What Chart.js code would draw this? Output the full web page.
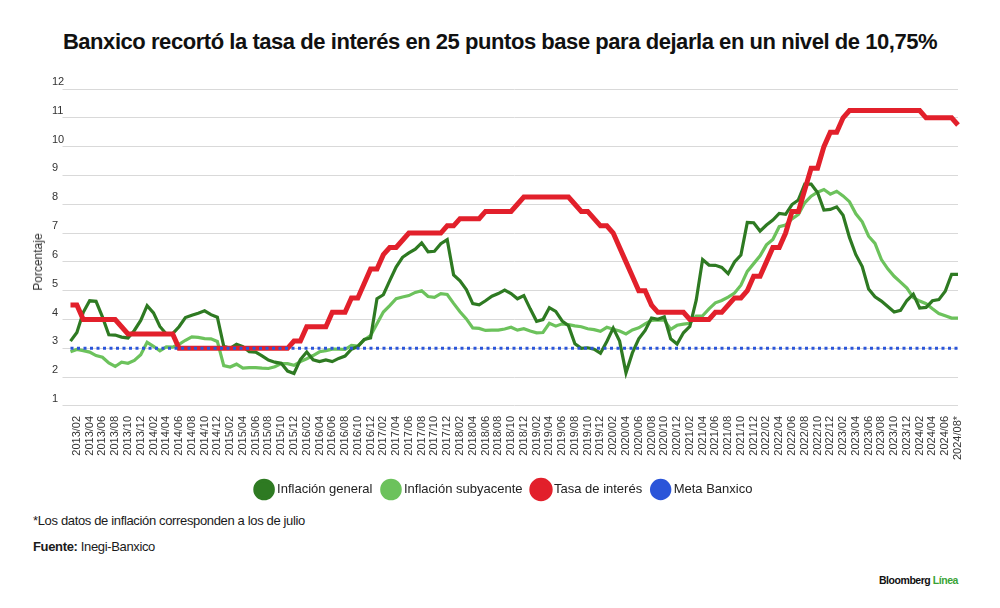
<!DOCTYPE html>
<html>
<head>
<meta charset="utf-8">
<script src="https://cdn.jsdelivr.net/npm/chart.js@4.4.1/dist/chart.umd.min.js"></script>
<style>
  html, body { margin: 0; padding: 0; background: #fff; }
  body { width: 1000px; height: 608px; position: relative; overflow: hidden; font-family: "Liberation Sans", Arial, sans-serif; color: #1a1a1a; }
  #title { position: absolute; left: 0; width: 1000px; top: 29px; text-align: center; font-weight: bold; font-size: 22px; letter-spacing: -0.45px; color: #111; }
  #chartBox { position: absolute; left: 0; top: 60px; width: 1000px; height: 446px; }
  #ylab { position: absolute; left: 38px; top: 262px; transform: translate(-50%, -50%) rotate(-90deg); font-size: 12px; color: #333; white-space: nowrap; }
  .note { position: absolute; left: 33px; font-size: 13px; letter-spacing: -0.35px; color: #1a1a1a; }
  #brand { position: absolute; right: 42px; top: 574px; font-size: 10.5px; font-weight: bold; letter-spacing: -0.45px; color: #111; }
  #brand span { color: #3aa335; }
</style>
</head>
<body>
<div id="title">Banxico recortó la tasa de interés en 25 puntos base para dejarla en un nivel de 10,75%</div>
<div id="chartBox"><canvas id="c"></canvas></div>
<div id="ylab">Porcentaje</div>
<div class="note" style="top:513px">*Los datos de inflación corresponden a los de julio</div>
<div class="note" style="top:539px"><b>Fuente:</b> Inegi-Banxico</div>
<div id="brand">Bloomberg <span>Línea</span></div>
<script>
// Categories: monthly, 2013/01 .. 2024/08
const years = [2013,2014,2015,2016,2017,2018,2019,2020,2021,2022,2023,2024];
const lastMonth2024 = 8;
const categories = [];
for (const y of years) {
  const end = (y === 2024) ? lastMonth2024 : 12;
  for (let m = 1; m <= end; m++) categories.push(y + '/' + String(m).padStart(2, '0'));
}
categories[categories.length - 1] = '2024/08*';

// Inflación general (%)
const inflacionGeneral = [
  3.25,3.55,4.25,4.65,4.63,4.09,3.47,3.46,3.39,3.36,3.62,3.97,
  4.48,4.23,3.76,3.50,3.51,3.75,4.07,4.15,4.22,4.30,4.17,4.08,
  3.07,3.00,3.14,3.06,2.88,2.87,2.74,2.59,2.52,2.48,2.21,2.13,
  2.61,2.87,2.60,2.54,2.60,2.54,2.65,2.73,2.97,3.06,3.31,3.36,
  4.72,4.86,5.35,5.82,6.16,6.31,6.44,6.66,6.35,6.37,6.63,6.77,
  5.55,5.34,5.04,4.55,4.51,4.65,4.81,4.90,5.02,4.90,4.72,4.83,
  4.37,3.94,4.00,4.41,4.28,3.95,3.78,3.16,3.00,3.02,2.97,2.83,
  3.24,3.70,3.25,2.15,2.84,3.33,3.62,4.05,4.01,4.09,3.33,3.15,
  3.54,3.76,4.67,6.08,5.89,5.88,5.81,5.59,6.00,6.24,7.37,7.36,
  7.07,7.28,7.45,7.68,7.65,7.99,8.15,8.70,8.70,8.41,7.80,7.82,
  7.91,7.62,6.85,6.25,5.84,5.06,4.79,4.64,4.45,4.26,4.32,4.66,
  4.88,4.40,4.42,4.65,4.69,4.98,5.57,5.57
];

// Inflación subyacente (%)
const inflacionSubyacente = [
  2.88,2.96,2.92,2.87,2.75,2.69,2.49,2.37,2.52,2.48,2.58,2.78,
  3.21,3.07,2.91,3.05,3.04,3.14,3.28,3.40,3.38,3.34,3.33,3.24,
  2.40,2.35,2.45,2.31,2.33,2.33,2.31,2.30,2.36,2.47,2.47,2.41,
  2.54,2.64,2.75,2.88,2.92,2.97,2.97,2.96,3.10,3.08,3.29,3.44,
  3.85,4.26,4.48,4.72,4.78,4.83,4.94,5.00,4.80,4.77,4.90,4.87,
  4.56,4.27,4.02,3.71,3.69,3.62,3.63,3.63,3.67,3.73,3.63,3.68,
  3.60,3.54,3.55,3.87,3.77,3.85,3.82,3.78,3.75,3.68,3.65,3.59,
  3.73,3.66,3.60,3.50,3.64,3.71,3.85,3.97,3.99,3.98,3.66,3.80,
  3.84,3.87,4.12,4.13,4.37,4.58,4.66,4.78,4.92,5.19,5.67,5.94,
  6.21,6.59,6.78,7.22,7.28,7.49,7.65,8.05,8.28,8.42,8.51,8.35,
  8.45,8.29,8.09,7.67,7.39,6.89,6.64,6.08,5.76,5.50,5.30,5.09,
  4.76,4.64,4.55,4.37,4.21,4.13,4.05,4.05
];

// Tasa de interés (%)
const tasaInteres = [
  4.5,4.5,4.0,4.0,4.0,4.0,4.0,4.0,3.75,3.5,3.5,3.5,
  3.5,3.5,3.5,3.5,3.5,3.0,3.0,3.0,3.0,3.0,3.0,3.0,
  3.0,3.0,3.0,3.0,3.0,3.0,3.0,3.0,3.0,3.0,3.0,3.25,
  3.25,3.75,3.75,3.75,3.75,4.25,4.25,4.25,4.75,4.75,5.25,5.75,
  5.75,6.25,6.5,6.5,6.75,7.0,7.0,7.0,7.0,7.0,7.0,7.25,
  7.25,7.5,7.5,7.5,7.5,7.75,7.75,7.75,7.75,7.75,8.0,8.25,
  8.25,8.25,8.25,8.25,8.25,8.25,8.25,8.0,7.75,7.75,7.5,7.25,
  7.25,7.0,6.5,6.0,5.5,5.0,5.0,4.5,4.25,4.25,4.25,4.25,
  4.25,4.0,4.0,4.0,4.0,4.25,4.25,4.5,4.75,4.75,5.0,5.5,
  5.5,6.0,6.5,6.5,7.0,7.75,7.75,8.5,9.25,9.25,10.0,10.5,
  10.5,11.0,11.25,11.25,11.25,11.25,11.25,11.25,11.25,11.25,11.25,11.25,
  11.25,11.25,11.0,11.0,11.0,11.0,11.0,10.75
];

// Meta Banxico (%)
const META = 3;
const metaBanxico = categories.map(() => META);

const yTicks = [1,2,3,4,5,6,7,8,9,10,11,12];

const FONT = '"Liberation Sans", Arial, sans-serif';

new Chart(document.getElementById('c'), {
  type: 'line',
  data: {
    labels: categories,
    datasets: [
      { label: 'Inflación general', data: inflacionGeneral, borderColor: '#2e7a22', backgroundColor: '#2e7a22', borderWidth: 3.2, pointRadius: 0, tension: 0, order: 2 },
      { label: 'Inflación subyacente', data: inflacionSubyacente, borderColor: '#6cc25c', backgroundColor: '#6cc25c', borderWidth: 3.2, pointRadius: 0, tension: 0, order: 3 },
      { label: 'Tasa de interés', data: tasaInteres, borderColor: '#e2202b', backgroundColor: '#e2202b', borderWidth: 5, pointRadius: 0, tension: 0, order: 1 },
      { label: 'Meta Banxico', data: metaBanxico, borderColor: '#2b55d9', backgroundColor: '#2b55d9', borderWidth: 3, borderDash: [3, 3.5], pointRadius: 0, tension: 0, order: 0 }
    ]
  },
  options: {
    responsive: true,
    maintainAspectRatio: false,
    animation: false,
    layout: { padding: { left: 52, right: 42, top: 29, bottom: 0 } },
    plugins: {
      legend: {
        position: 'bottom',
        labels: {
          usePointStyle: true, pointStyle: 'circle', boxWidth: 13, boxHeight: 13,
          color: '#222', font: { family: FONT, size: 13 }, padding: 12,
          sort: function(a, b) { return a.datasetIndex - b.datasetIndex; }
        }
      },
      tooltip: { enabled: false }
    },
    scales: {
      x: {
        grid: { display: false },
        border: { display: false },
        afterFit: function(s) { s.height += 9; },
        ticks: {
          autoSkip: false, minRotation: 90, maxRotation: 90, padding: 2,
          color: '#333', font: { family: FONT, size: 11 },
          callback: function(v, i) { return (i % 2 === 1) ? categories[i] : ''; }
        }
      },
      y: {
        min: 1, max: 12,
        afterFit: function(s) { s.width = 18.5; },
        afterBuildTicks: function(s) { s.ticks = yTicks.map(v => ({ value: v })); },
        grid: { color: '#d9d9d9', lineWidth: 1, drawTicks: true, tickLength: 8 },
        border: { display: false },
        ticks: {
          crossAlign: 'far', labelOffset: -7, padding: 0,
          color: '#333', font: { family: FONT, size: 11 }
        }
      }
    }
  }
});
</script>
</body>
</html>
